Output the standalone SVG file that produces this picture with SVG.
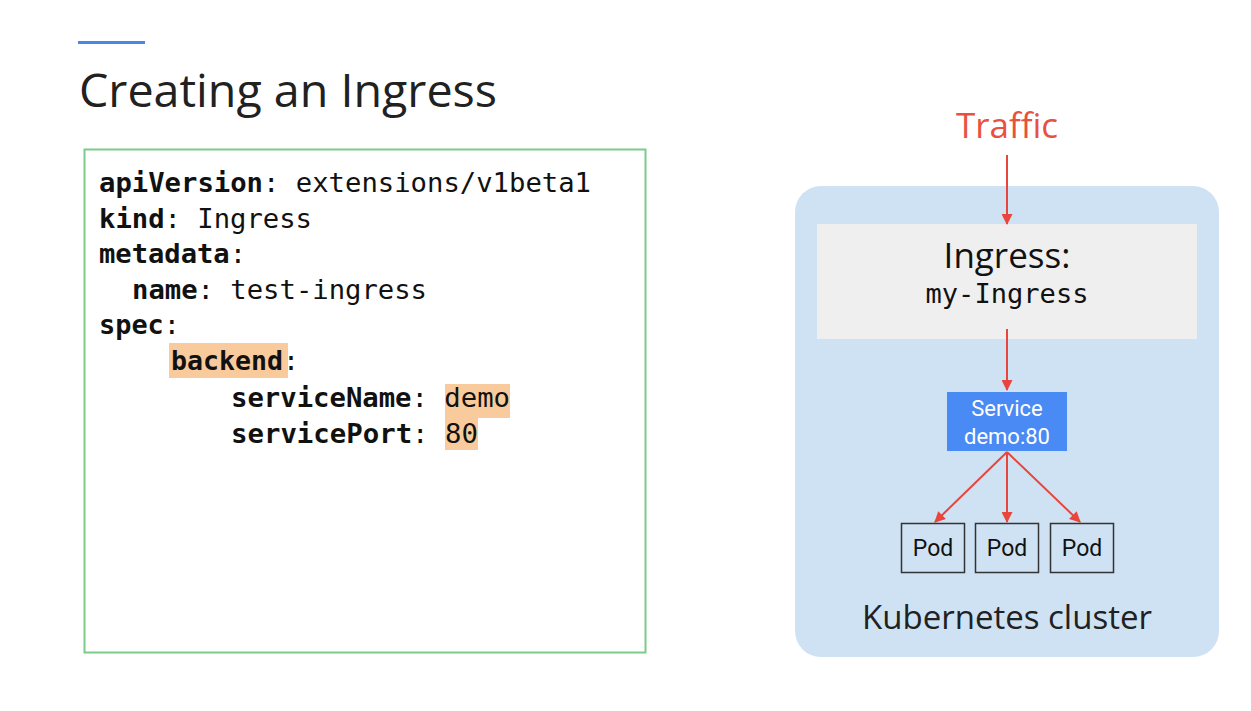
<svg xmlns="http://www.w3.org/2000/svg" width="1251" height="711" viewBox="0 0 1251 711">
<defs>
<style>
.sans{font-family:"Open Sans","Noto Sans",sans-serif;}
.mono{font-family:"DejaVu Sans Mono","Liberation Mono",monospace;font-size:26px;fill:#111;}
.b{font-weight:bold;}
.hl{fill:#f9cb9c;}
.pod{fill:none;stroke:#333;stroke-width:1.5;}
.podt{font-family:"Roboto","Open Sans",sans-serif;font-size:23px;fill:#111;text-anchor:middle;}
.arr{stroke:#e8453c;stroke-width:2;fill:none;marker-end:url(#ah);}
</style>
<marker id="ah" viewBox="0 0 10 10" refX="9" refY="5" markerWidth="13" markerHeight="11" markerUnits="userSpaceOnUse" orient="auto">
<path d="M0,0 L10,5 L0,10 z" fill="#e8453c"/>
</marker>
</defs>
<rect width="1251" height="711" fill="#ffffff"/>
<g id="title">
<rect x="78" y="41" width="67" height="3" fill="#4a86e8"/>
<text x="79" y="107" class="sans" font-size="45" fill="#212121" textLength="418" lengthAdjust="spacingAndGlyphs">Creating an Ingress</text>
</g>
<g id="code">
<rect x="84.5" y="149.5" width="561" height="503" fill="#fff" stroke="#7dcb8a" stroke-width="2"/>
<rect class="hl" x="169" y="343" width="119" height="35"/>
<rect class="hl" x="445" y="384" width="65" height="34"/>
<rect class="hl" x="445" y="418" width="33" height="32"/>
<text class="mono" x="99" y="192" textLength="492" lengthAdjust="spacingAndGlyphs"><tspan class="b">apiVersion</tspan>: extensions/v1beta1</text>
<text class="mono" x="99" y="228" textLength="213" lengthAdjust="spacingAndGlyphs"><tspan class="b">kind</tspan>: Ingress</text>
<text class="mono" x="99" y="263" textLength="147" lengthAdjust="spacingAndGlyphs"><tspan class="b">metadata</tspan>:</text>
<text class="mono" x="132" y="299" textLength="295" lengthAdjust="spacingAndGlyphs"><tspan class="b">name</tspan>: test-ingress</text>
<text class="mono" x="99" y="334" textLength="81" lengthAdjust="spacingAndGlyphs"><tspan class="b">spec</tspan>:</text>
<text class="mono" x="171" y="370" textLength="128" lengthAdjust="spacingAndGlyphs"><tspan class="b">backend</tspan>:</text>
<text class="mono" x="231" y="407" textLength="279" lengthAdjust="spacingAndGlyphs"><tspan class="b">serviceName</tspan>: demo</text>
<text class="mono" x="231" y="443" textLength="247" lengthAdjust="spacingAndGlyphs"><tspan class="b">servicePort</tspan>: 80</text>
</g>
<g id="cluster">
<rect x="795" y="186" width="424" height="471" rx="26" fill="#cfe2f3"/>
<text x="1007" y="629" class="sans" font-size="33" fill="#212121" text-anchor="middle">Kubernetes cluster</text>
</g>
<g id="traffic">
<text x="1007" y="138" class="sans" font-size="35" fill="#e8513f" text-anchor="middle">Traffic</text>
</g>
<g id="ingress">
<rect x="817" y="224" width="380" height="115" fill="#efefef"/>
<text x="1007" y="268" class="sans" font-size="35" fill="#111" text-anchor="middle">Ingress:</text>
<text x="1007" y="303" class="mono" font-size="25" text-anchor="middle" textLength="163" lengthAdjust="spacingAndGlyphs">my-Ingress</text>
</g>
<g id="service">
<rect x="947" y="392" width="120" height="59" fill="#4a8af4"/>
<text x="1007" y="416" font-family="Roboto,'Open Sans',sans-serif" font-size="22" fill="#fff" text-anchor="middle">Service</text>
<text x="1007" y="444" font-family="Roboto,'Open Sans',sans-serif" font-size="22" fill="#fff" text-anchor="middle">demo:80</text>
</g>
<g id="pod1"><rect class="pod" x="901.5" y="523.5" width="63" height="49"/><text class="podt" x="933" y="556">Pod</text></g>
<g id="pod2"><rect class="pod" x="975.5" y="523.5" width="63" height="49"/><text class="podt" x="1007" y="556">Pod</text></g>
<g id="pod3"><rect class="pod" x="1050.5" y="523.5" width="63" height="49"/><text class="podt" x="1082" y="556">Pod</text></g>
<g id="connectors">
<line class="arr" x1="1007" y1="155" x2="1007" y2="224"/>
<line class="arr" x1="1007" y1="329" x2="1007" y2="390"/>
<line class="arr" x1="1007" y1="452" x2="935" y2="522"/>
<line class="arr" x1="1007" y1="452" x2="1007" y2="522"/>
<line class="arr" x1="1007" y1="452" x2="1080" y2="522"/>
</g>
</svg>
